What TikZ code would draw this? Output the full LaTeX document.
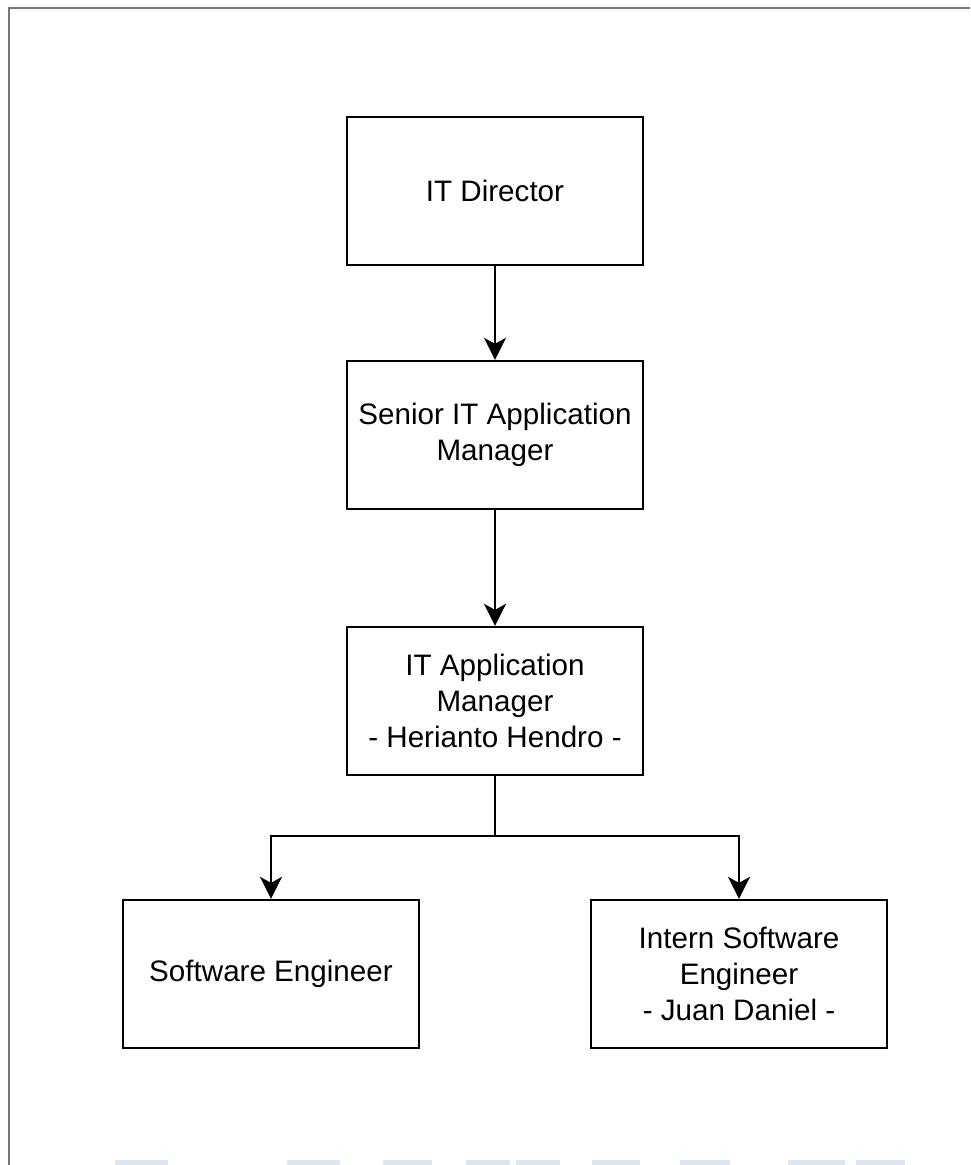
\documentclass[tikz,border=0pt]{standalone}
\usepackage{fontspec}
\setmainfont{Liberation Sans}
\usetikzlibrary{arrows.meta}
\definecolor{framegray}{HTML}{777777}
\definecolor{stripblue}{HTML}{DCE5F0}
\begin{document}
\begin{tikzpicture}[x=1pt,y=-1pt,
  role/.style={draw=black, line width=2.3pt, minimum width=296pt, minimum height=148pt,
    align=center, inner sep=0pt,
    font=\fontsize{29.6}{36}\selectfont,
    execute at begin node={\vspace*{7pt}}},
  link/.style={line width=2.5pt, -{Stealth[length=22pt,width=22pt,inset=6pt]}}]
  \useasboundingbox (0,0) rectangle (970,1165);
  \fill[white] (0,0) rectangle (970,1165);
  % page frame
  \draw[framegray, line width=2pt] (9,1165) -- (9,8) -- (970,8);
  % light strip along the bottom edge
  \foreach \a/\b in {115/168, 287/340, 383/432, 466/510, 516/560, 592/640, 680/730, 788/845, 856/905}
    \fill[stripblue] (\a,1160) rectangle (\b,1165);
  % roles
  \node[role] (dir) at (495,191) {IT Director};
  \node[role] (sen) at (495,435) {Senior IT Application\\Manager};
  \node[role] (mgr) at (495,701) {IT Application\\Manager\\- Herianto Hendro -};
  \node[role] (swe) at (271,974) {Software Engineer};
  \node[role] (int) at (739,974) {Intern Software\\Engineer\\- Juan Daniel -};
  % reporting lines
  \coordinate (split) at (495,836);
  \draw[link] (dir) -- (sen);
  \draw[link] (sen) -- (mgr);
  \draw[link] (mgr.south) -- (split) -| (swe.north);
  \draw[link] (split) -| (int.north);
\end{tikzpicture}
\end{document}
